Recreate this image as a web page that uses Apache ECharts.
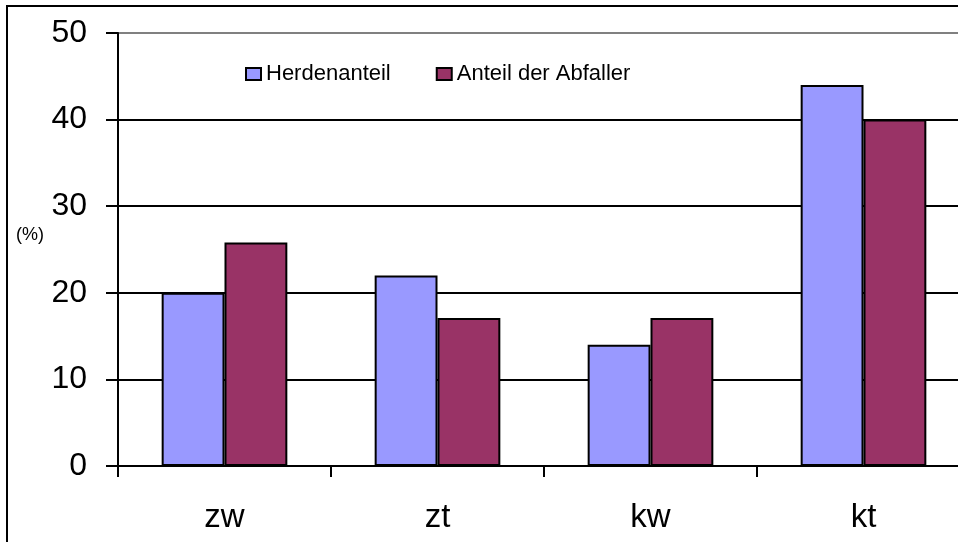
<!DOCTYPE html>
<html>
<head>
<meta charset="UTF-8">
<title>Herdenanteil</title>
<script src="https://cdn.jsdelivr.net/npm/echarts@6/dist/echarts.min.js"></script>
<style>
    body { margin: 0; padding: 0; background: #fff; overflow: hidden; }
    #main { width: 1000px; height: 542px; }
</style>
</head>
<body>
<div id="main"></div>
<script type="text/javascript">
    // Daten
    var categories = ['zw', 'zt', 'kw', 'kt'];
    var herdenanteil = [20, 22, 14, 44];
    var abfaller = [25.8, 17.1, 17.1, 40];
    var seriesNames = ['Herdenanteil', 'Anteil der Abfaller'];

    // Diagramm ragt rechts ueber den Rand hinaus, darum ist das div breiter
    var myChart = echarts.init(document.getElementById('main'));
    var font = 'Liberation Sans, Arial, sans-serif';

    var option = {
        animation: false,
        backgroundColor: '#fff',
        grid: { left: 118, width: 852, top: 33, bottom: 76 },
        legend: {
            left: 245, top: 63,
            padding: 0,
            icon: 'rect',
            itemWidth: 15, itemHeight: 12, itemGap: 45,
            itemStyle: { borderColor: '#000', borderWidth: 2 },
            textStyle: { fontFamily: font, fontSize: 22, color: '#000' },
            data: seriesNames
        },
        graphic: [
            { type: 'rect', shape: { x: 7, y: 6, width: 1000, height: 1000 },
              style: { fill: 'none', stroke: '#000', lineWidth: 2 }, z: 10 },
            { type: 'text', left: 16, top: 226,
              style: { text: '(%)', font: '18px ' + font, fill: '#000' } }
        ],
        xAxis: {
            type: 'category',
            data: categories,
            axisLine: { lineStyle: { color: '#000', width: 2 } },
            axisTick: { show: true, interval: 0, length: 11, lineStyle: { color: '#000', width: 2 } },
            axisLabel: { margin: 35, color: '#000', fontFamily: font, fontSize: 33 }
        },
        yAxis: {
            type: 'value',
            min: 0, max: 50, interval: 10,
            axisLine: { show: true, lineStyle: { color: '#000', width: 2 } },
            axisTick: { show: true, length: 12, lineStyle: { color: '#000', width: 2 } },
            axisLabel: { margin: 31, color: '#000', fontFamily: font, fontSize: 32 },
            splitLine: { lineStyle: { color: ['#000', '#000', '#000', '#000', '#000', '#808080'], width: 2 } }
        },
        series: [{
            name: seriesNames[0],
            type: 'bar',
            data: herdenanteil,
            barGap: '0%',
            barCategoryGap: '41%',
            itemStyle: { color: '#9999FF', borderColor: '#000', borderWidth: 2 }
        }, {
            name: seriesNames[1],
            type: 'bar',
            data: abfaller,
            itemStyle: { color: '#993366', borderColor: '#000', borderWidth: 2 }
        }]
    };
    myChart.setOption(option);
</script>
</body>
</html>
